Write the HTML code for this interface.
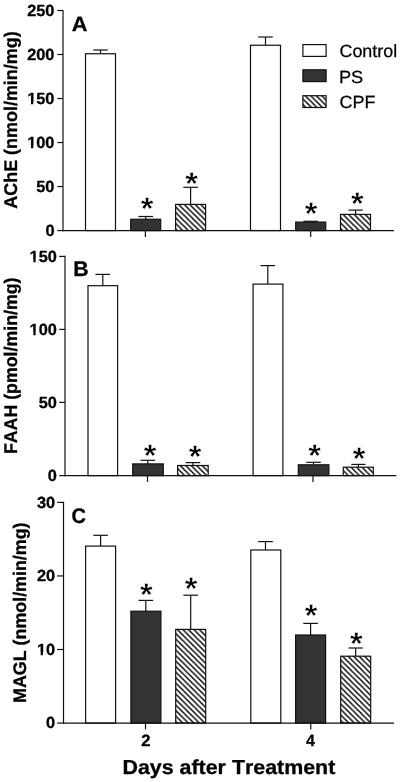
<!DOCTYPE html>
<html><head><meta charset="utf-8"><title>Figure</title>
<style>html,body{margin:0;padding:0;background:#fff;}body{width:400px;height:782px;overflow:hidden;font-family:"Liberation Sans",sans-serif;}svg{display:block;will-change:transform;font-kerning:none;}</style>
</head><body>
<svg text-rendering="geometricPrecision" width="400" height="782" viewBox="0 0 400 782" font-family="Liberation Sans, sans-serif">
<rect width="400" height="782" fill="#fff"/>
<defs>
<pattern id="h1" patternUnits="userSpaceOnUse" x="178.50" y="204.30" width="5.5" height="5.5"><rect width="5.5" height="5.5" fill="#fff"/><path d="M-5.5,-5.5 L11.0,11.0 M0,-5.5 L11.0,5.5 M-5.5,0 L5.5,11.0" stroke="#000" stroke-width="1.45" fill="none"/></pattern>
<pattern id="h2" patternUnits="userSpaceOnUse" x="343.00" y="214.40" width="5.5" height="5.5"><rect width="5.5" height="5.5" fill="#fff"/><path d="M-5.5,-5.5 L11.0,11.0 M0,-5.5 L11.0,5.5 M-5.5,0 L5.5,11.0" stroke="#000" stroke-width="1.45" fill="none"/></pattern>
<clipPath id="c1" clipPathUnits="userSpaceOnUse"><path clip-rule="evenodd" d="M-50,-50H200V50H-50ZM0.472,-2.544H3.761V2H0.472ZM5.972,-2.544H8.851V2H5.972Z"/></clipPath>
<clipPath id="c2" clipPathUnits="userSpaceOnUse"><path clip-rule="evenodd" d="M-50,-50H200V50H-50ZM0.472,-2.544H3.761V2H0.472ZM5.972,-2.544H8.851V2H5.972Z"/></clipPath>
<pattern id="h3" patternUnits="userSpaceOnUse" x="180.10" y="465.50" width="5.5" height="5.5"><rect width="5.5" height="5.5" fill="#fff"/><path d="M-5.5,-5.5 L11.0,11.0 M0,-5.5 L11.0,5.5 M-5.5,0 L5.5,11.0" stroke="#000" stroke-width="1.45" fill="none"/></pattern>
<pattern id="h4" patternUnits="userSpaceOnUse" x="345.50" y="467.20" width="5.5" height="5.5"><rect width="5.5" height="5.5" fill="#fff"/><path d="M-5.5,-5.5 L11.0,11.0 M0,-5.5 L11.0,5.5 M-5.5,0 L5.5,11.0" stroke="#000" stroke-width="1.45" fill="none"/></pattern>
<clipPath id="c3" clipPathUnits="userSpaceOnUse"><path clip-rule="evenodd" d="M-50,-50H200V50H-50ZM0.472,-2.544H3.761V2H0.472ZM5.972,-2.544H8.851V2H5.972Z"/></clipPath>
<clipPath id="c4" clipPathUnits="userSpaceOnUse"><path clip-rule="evenodd" d="M-50,-50H200V50H-50ZM0.472,-2.544H3.761V2H0.472ZM5.972,-2.544H8.851V2H5.972Z"/></clipPath>
<pattern id="h5" patternUnits="userSpaceOnUse" x="177.25" y="629.50" width="5.5" height="5.5"><rect width="5.5" height="5.5" fill="#fff"/><path d="M-5.5,-5.5 L11.0,11.0 M0,-5.5 L11.0,5.5 M-5.5,0 L5.5,11.0" stroke="#000" stroke-width="1.45" fill="none"/></pattern>
<pattern id="h6" patternUnits="userSpaceOnUse" x="342.50" y="656.20" width="5.5" height="5.5"><rect width="5.5" height="5.5" fill="#fff"/><path d="M-5.5,-5.5 L11.0,11.0 M0,-5.5 L11.0,5.5 M-5.5,0 L5.5,11.0" stroke="#000" stroke-width="1.45" fill="none"/></pattern>
<clipPath id="c5" clipPathUnits="userSpaceOnUse"><path clip-rule="evenodd" d="M-50,-50H200V50H-50ZM0.472,-2.544H3.761V2H0.472ZM5.972,-2.544H8.851V2H5.972Z"/></clipPath>
<pattern id="h7" patternUnits="userSpaceOnUse" x="305.20" y="95.70" width="5.5" height="5.5"><rect width="5.5" height="5.5" fill="#fff"/><path d="M-5.5,-5.5 L11.0,11.0 M0,-5.5 L11.0,5.5 M-5.5,0 L5.5,11.0" stroke="#000" stroke-width="1.45" fill="none"/></pattern>
</defs>
<line x1="100.50" y1="53.75" x2="100.50" y2="50.00" stroke="#111" stroke-width="1.2"/>
<line x1="93.20" y1="50.00" x2="107.80" y2="50.00" stroke="#111" stroke-width="1.2"/>
<rect x="85.50" y="53.75" width="30" height="176.80" fill="#fff" stroke="#111" stroke-width="1.2"/>
<line x1="145.70" y1="219.25" x2="145.70" y2="216.50" stroke="#111" stroke-width="1.2"/>
<line x1="138.40" y1="216.50" x2="153.00" y2="216.50" stroke="#111" stroke-width="1.2"/>
<rect x="130.70" y="219.25" width="30" height="11.30" fill="#333" stroke="#111" stroke-width="1.2"/>
<line x1="190.60" y1="204.40" x2="190.60" y2="187.30" stroke="#111" stroke-width="1.2"/>
<line x1="183.30" y1="187.30" x2="197.90" y2="187.30" stroke="#111" stroke-width="1.2"/>
<rect x="175.60" y="204.40" width="30" height="26.15" fill="url(#h1)" stroke="#111" stroke-width="1.2"/>
<line x1="265.50" y1="45.25" x2="265.50" y2="37.00" stroke="#111" stroke-width="1.2"/>
<line x1="258.20" y1="37.00" x2="272.80" y2="37.00" stroke="#111" stroke-width="1.2"/>
<rect x="250.50" y="45.25" width="30" height="185.30" fill="#fff" stroke="#111" stroke-width="1.2"/>
<line x1="310.70" y1="222.10" x2="310.70" y2="221.30" stroke="#111" stroke-width="1.2"/>
<line x1="303.40" y1="221.30" x2="318.00" y2="221.30" stroke="#111" stroke-width="1.2"/>
<rect x="295.70" y="222.10" width="30" height="8.45" fill="#333" stroke="#111" stroke-width="1.2"/>
<line x1="355.60" y1="214.40" x2="355.60" y2="210.10" stroke="#111" stroke-width="1.2"/>
<line x1="348.50" y1="210.10" x2="362.70" y2="210.10" stroke="#111" stroke-width="1.2"/>
<rect x="340.50" y="214.40" width="30" height="16.15" fill="url(#h2)" stroke="#111" stroke-width="1.2"/>
<line x1="63.00" y1="9.90" x2="63.00" y2="231.15" stroke="#111" stroke-width="1.2"/>
<line x1="62.40" y1="230.55" x2="394.00" y2="230.55" stroke="#111" stroke-width="1.2"/>
<line x1="57.30" y1="10.50" x2="63.00" y2="10.50" stroke="#111" stroke-width="1.2"/>
<text transform="translate(27.18,15.94) scale(1.0150,1)" font-size="16.11" font-weight="bold" fill="#000" stroke="#000" stroke-width="0.3" stroke-linejoin="round">250</text>
<line x1="57.30" y1="54.51" x2="63.00" y2="54.51" stroke="#111" stroke-width="1.2"/>
<text transform="translate(27.18,59.95) scale(1.0150,1)" font-size="16.11" font-weight="bold" fill="#000" stroke="#000" stroke-width="0.3" stroke-linejoin="round">200</text>
<line x1="57.30" y1="98.52" x2="63.00" y2="98.52" stroke="#111" stroke-width="1.2"/>
<text transform="translate(27.18,103.96) scale(1.0150,1)" font-size="16.11" font-weight="bold" fill="#000" stroke="#000" stroke-width="0.3" stroke-linejoin="round" clip-path="url(#c1)">150</text>
<line x1="57.30" y1="142.53" x2="63.00" y2="142.53" stroke="#111" stroke-width="1.2"/>
<text transform="translate(27.18,147.97) scale(1.0150,1)" font-size="16.11" font-weight="bold" fill="#000" stroke="#000" stroke-width="0.3" stroke-linejoin="round" clip-path="url(#c2)">100</text>
<line x1="57.30" y1="186.54" x2="63.00" y2="186.54" stroke="#111" stroke-width="1.2"/>
<text transform="translate(36.28,191.98) scale(1.0150,1)" font-size="16.11" font-weight="bold" fill="#000" stroke="#000" stroke-width="0.3" stroke-linejoin="round">50</text>
<line x1="57.30" y1="230.55" x2="63.00" y2="230.55" stroke="#111" stroke-width="1.2"/>
<text transform="translate(45.38,235.99) scale(1.0150,1)" font-size="16.11" font-weight="bold" fill="#000" stroke="#000" stroke-width="0.3" stroke-linejoin="round">0</text>
<line x1="145.40" y1="230.55" x2="145.40" y2="236.95" stroke="#111" stroke-width="1.2"/>
<line x1="310.70" y1="230.55" x2="310.70" y2="236.95" stroke="#111" stroke-width="1.2"/>
<text transform="translate(140.85,218.55) scale(1.0407,1)" font-size="31.18" font-weight="bold" fill="#000" stroke="#fff" stroke-width="0.45">*</text>
<text transform="translate(185.15,193.55) scale(1.0407,1)" font-size="31.18" font-weight="bold" fill="#000" stroke="#fff" stroke-width="0.45">*</text>
<text transform="translate(304.65,223.75) scale(1.0407,1)" font-size="31.18" font-weight="bold" fill="#000" stroke="#fff" stroke-width="0.45">*</text>
<text transform="translate(351.05,213.65) scale(1.0407,1)" font-size="31.18" font-weight="bold" fill="#000" stroke="#fff" stroke-width="0.45">*</text>
<text transform="translate(71.66,30.60) scale(1.0544,1)" font-size="20.64" font-weight="bold" fill="#000" stroke="#000" stroke-width="0.3" stroke-linejoin="round">A</text>
<text transform="translate(17.20,208.75) rotate(-90) scale(0.9791,1)" font-size="18.33" font-weight="bold" fill="#000" stroke="#000" stroke-width="0.3" stroke-linejoin="round">AChE (nmol/min/mg)</text>
<line x1="102.80" y1="285.70" x2="102.80" y2="274.40" stroke="#111" stroke-width="1.2"/>
<line x1="95.50" y1="274.40" x2="110.10" y2="274.40" stroke="#111" stroke-width="1.2"/>
<rect x="88.00" y="285.70" width="29.6" height="189.90" fill="#fff" stroke="#111" stroke-width="1.2"/>
<line x1="147.80" y1="463.90" x2="147.80" y2="460.30" stroke="#111" stroke-width="1.2"/>
<line x1="140.50" y1="460.30" x2="155.10" y2="460.30" stroke="#111" stroke-width="1.2"/>
<rect x="132.70" y="463.90" width="30.6" height="11.70" fill="#333" stroke="#111" stroke-width="1.2"/>
<line x1="193.00" y1="465.50" x2="193.00" y2="462.60" stroke="#111" stroke-width="1.2"/>
<line x1="185.70" y1="462.60" x2="200.30" y2="462.60" stroke="#111" stroke-width="1.2"/>
<rect x="177.60" y="465.50" width="30.6" height="10.10" fill="url(#h3)" stroke="#111" stroke-width="1.2"/>
<line x1="267.80" y1="284.10" x2="267.80" y2="265.60" stroke="#111" stroke-width="1.2"/>
<line x1="260.50" y1="265.60" x2="275.10" y2="265.60" stroke="#111" stroke-width="1.2"/>
<rect x="253.10" y="284.10" width="29.8" height="191.50" fill="#fff" stroke="#111" stroke-width="1.2"/>
<line x1="313.50" y1="464.80" x2="313.50" y2="462.30" stroke="#111" stroke-width="1.2"/>
<line x1="306.20" y1="462.30" x2="320.80" y2="462.30" stroke="#111" stroke-width="1.2"/>
<rect x="298.30" y="464.80" width="30.6" height="10.80" fill="#333" stroke="#111" stroke-width="1.2"/>
<line x1="358.40" y1="467.20" x2="358.40" y2="464.40" stroke="#111" stroke-width="1.2"/>
<line x1="351.30" y1="464.40" x2="365.50" y2="464.40" stroke="#111" stroke-width="1.2"/>
<rect x="343.30" y="467.20" width="30.0" height="8.40" fill="url(#h4)" stroke="#111" stroke-width="1.2"/>
<line x1="65.00" y1="255.80" x2="65.00" y2="476.20" stroke="#111" stroke-width="1.2"/>
<line x1="64.40" y1="475.60" x2="396.40" y2="475.60" stroke="#111" stroke-width="1.2"/>
<line x1="59.20" y1="256.40" x2="65.00" y2="256.40" stroke="#111" stroke-width="1.2"/>
<text transform="translate(29.58,261.84) scale(1.0150,1)" font-size="16.11" font-weight="bold" fill="#000" stroke="#000" stroke-width="0.3" stroke-linejoin="round" clip-path="url(#c3)">150</text>
<line x1="59.20" y1="329.40" x2="65.00" y2="329.40" stroke="#111" stroke-width="1.2"/>
<text transform="translate(29.58,334.84) scale(1.0150,1)" font-size="16.11" font-weight="bold" fill="#000" stroke="#000" stroke-width="0.3" stroke-linejoin="round" clip-path="url(#c4)">100</text>
<line x1="59.20" y1="402.40" x2="65.00" y2="402.40" stroke="#111" stroke-width="1.2"/>
<text transform="translate(38.68,407.84) scale(1.0150,1)" font-size="16.11" font-weight="bold" fill="#000" stroke="#000" stroke-width="0.3" stroke-linejoin="round">50</text>
<line x1="59.20" y1="475.60" x2="65.00" y2="475.60" stroke="#111" stroke-width="1.2"/>
<text transform="translate(47.78,481.04) scale(1.0150,1)" font-size="16.11" font-weight="bold" fill="#000" stroke="#000" stroke-width="0.3" stroke-linejoin="round">0</text>
<line x1="147.50" y1="475.60" x2="147.50" y2="482.00" stroke="#111" stroke-width="1.2"/>
<line x1="313.00" y1="475.60" x2="313.00" y2="482.00" stroke="#111" stroke-width="1.2"/>
<text transform="translate(143.65,466.45) scale(1.0407,1)" font-size="31.18" font-weight="bold" fill="#000" stroke="#fff" stroke-width="0.45">*</text>
<text transform="translate(188.85,467.15) scale(1.0407,1)" font-size="31.18" font-weight="bold" fill="#000" stroke="#fff" stroke-width="0.45">*</text>
<text transform="translate(308.15,466.25) scale(1.0407,1)" font-size="31.18" font-weight="bold" fill="#000" stroke="#fff" stroke-width="0.45">*</text>
<text transform="translate(352.85,469.25) scale(1.0407,1)" font-size="31.18" font-weight="bold" fill="#000" stroke="#fff" stroke-width="0.45">*</text>
<text transform="translate(73.37,275.80) scale(1.0114,1)" font-size="21.08" font-weight="bold" fill="#000" stroke="#000" stroke-width="0.3" stroke-linejoin="round">B</text>
<text transform="translate(17.00,454.09) rotate(-90) scale(0.9689,1)" font-size="18.33" font-weight="bold" fill="#000" stroke="#000" stroke-width="0.3" stroke-linejoin="round">FAAH (pmol/min/mg)</text>
<line x1="100.60" y1="546.10" x2="100.60" y2="535.30" stroke="#111" stroke-width="1.2"/>
<line x1="93.30" y1="535.30" x2="107.90" y2="535.30" stroke="#111" stroke-width="1.2"/>
<rect x="85.60" y="546.10" width="30" height="176.95" fill="#fff" stroke="#111" stroke-width="1.2"/>
<line x1="145.80" y1="611.20" x2="145.80" y2="600.40" stroke="#111" stroke-width="1.2"/>
<line x1="138.50" y1="600.40" x2="153.10" y2="600.40" stroke="#111" stroke-width="1.2"/>
<rect x="130.90" y="611.20" width="30" height="111.85" fill="#333" stroke="#111" stroke-width="1.2"/>
<line x1="190.70" y1="629.40" x2="190.70" y2="595.20" stroke="#111" stroke-width="1.2"/>
<line x1="183.40" y1="595.20" x2="198.00" y2="595.20" stroke="#111" stroke-width="1.2"/>
<rect x="175.70" y="629.40" width="30" height="93.65" fill="url(#h5)" stroke="#111" stroke-width="1.2"/>
<line x1="265.50" y1="550.00" x2="265.50" y2="541.60" stroke="#111" stroke-width="1.2"/>
<line x1="258.20" y1="541.60" x2="272.80" y2="541.60" stroke="#111" stroke-width="1.2"/>
<rect x="250.80" y="550.00" width="30" height="173.05" fill="#fff" stroke="#111" stroke-width="1.2"/>
<line x1="310.60" y1="635.00" x2="310.60" y2="623.40" stroke="#111" stroke-width="1.2"/>
<line x1="303.30" y1="623.40" x2="317.90" y2="623.40" stroke="#111" stroke-width="1.2"/>
<rect x="295.60" y="635.00" width="30" height="88.05" fill="#333" stroke="#111" stroke-width="1.2"/>
<line x1="355.70" y1="656.20" x2="355.70" y2="648.00" stroke="#111" stroke-width="1.2"/>
<line x1="348.50" y1="648.00" x2="362.90" y2="648.00" stroke="#111" stroke-width="1.2"/>
<rect x="340.70" y="656.20" width="30" height="66.85" fill="url(#h6)" stroke="#111" stroke-width="1.2"/>
<line x1="63.50" y1="501.80" x2="63.50" y2="723.65" stroke="#111" stroke-width="1.2"/>
<line x1="62.90" y1="723.05" x2="394.00" y2="723.05" stroke="#111" stroke-width="1.2"/>
<line x1="57.20" y1="502.40" x2="63.50" y2="502.40" stroke="#111" stroke-width="1.2"/>
<text transform="translate(36.88,507.84) scale(1.0150,1)" font-size="16.11" font-weight="bold" fill="#000" stroke="#000" stroke-width="0.3" stroke-linejoin="round">30</text>
<line x1="57.20" y1="575.95" x2="63.50" y2="575.95" stroke="#111" stroke-width="1.2"/>
<text transform="translate(36.88,581.39) scale(1.0150,1)" font-size="16.11" font-weight="bold" fill="#000" stroke="#000" stroke-width="0.3" stroke-linejoin="round">20</text>
<line x1="57.20" y1="649.50" x2="63.50" y2="649.50" stroke="#111" stroke-width="1.2"/>
<text transform="translate(36.88,654.94) scale(1.0150,1)" font-size="16.11" font-weight="bold" fill="#000" stroke="#000" stroke-width="0.3" stroke-linejoin="round" clip-path="url(#c5)">10</text>
<line x1="57.20" y1="723.05" x2="63.50" y2="723.05" stroke="#111" stroke-width="1.2"/>
<text transform="translate(45.98,728.49) scale(1.0150,1)" font-size="16.11" font-weight="bold" fill="#000" stroke="#000" stroke-width="0.3" stroke-linejoin="round">0</text>
<line x1="145.50" y1="723.05" x2="145.50" y2="729.45" stroke="#111" stroke-width="1.2"/>
<line x1="310.75" y1="723.05" x2="310.75" y2="729.45" stroke="#111" stroke-width="1.2"/>
<text transform="translate(140.05,604.95) scale(1.0407,1)" font-size="31.18" font-weight="bold" fill="#000" stroke="#fff" stroke-width="0.45">*</text>
<text transform="translate(184.85,598.75) scale(1.0407,1)" font-size="31.18" font-weight="bold" fill="#000" stroke="#fff" stroke-width="0.45">*</text>
<text transform="translate(304.65,625.55) scale(1.0407,1)" font-size="31.18" font-weight="bold" fill="#000" stroke="#fff" stroke-width="0.45">*</text>
<text transform="translate(349.95,654.25) scale(1.0407,1)" font-size="31.18" font-weight="bold" fill="#000" stroke="#fff" stroke-width="0.45">*</text>
<text transform="translate(71.38,522.59) scale(0.9521,1)" font-size="21.04" font-weight="bold" fill="#000" stroke="#000" stroke-width="0.3" stroke-linejoin="round">C</text>
<text transform="translate(25.90,702.89) rotate(-90) scale(0.9819,1)" font-size="18.18" font-weight="bold" fill="#000" stroke="#000" stroke-width="0.3" stroke-linejoin="round">MAGL (nmol/min/mg)</text>
<text transform="translate(141.22,746.20) scale(1.0178,1)" font-size="16.33" font-weight="bold" fill="#000" stroke="#000" stroke-width="0.3" stroke-linejoin="round">2</text>
<text transform="translate(306.06,746.20) scale(0.9775,1)" font-size="16.42" font-weight="bold" fill="#000" stroke="#000" stroke-width="0.3" stroke-linejoin="round">4</text>
<text transform="translate(122.47,773.70) scale(1.0590,1)" font-size="20.22" font-weight="bold" fill="#000" stroke="#000" stroke-width="0.3" stroke-linejoin="round">Days after Treatment</text>
<rect x="302.90" y="44.60" width="23.2" height="11.80" fill="#fff" stroke="#111" stroke-width="1.2"/>
<text transform="translate(339.49,57.32) scale(1.0132,1)" font-size="17.67" font-weight="normal" fill="#000" stroke="#000" stroke-width="0.25">Control</text>
<rect x="302.90" y="69.80" width="23.2" height="11.80" fill="#333" stroke="#111" stroke-width="1.2"/>
<text transform="translate(338.90,82.52) scale(1.0325,1)" font-size="17.67" font-weight="normal" fill="#000" stroke="#000" stroke-width="0.25">PS</text>
<rect x="302.90" y="95.70" width="23.2" height="11.80" fill="url(#h7)" stroke="#111" stroke-width="1.2"/>
<text transform="translate(339.49,107.52) scale(1.0198,1)" font-size="17.67" font-weight="normal" fill="#000" stroke="#000" stroke-width="0.25">CPF</text>
</svg>
</body></html>
